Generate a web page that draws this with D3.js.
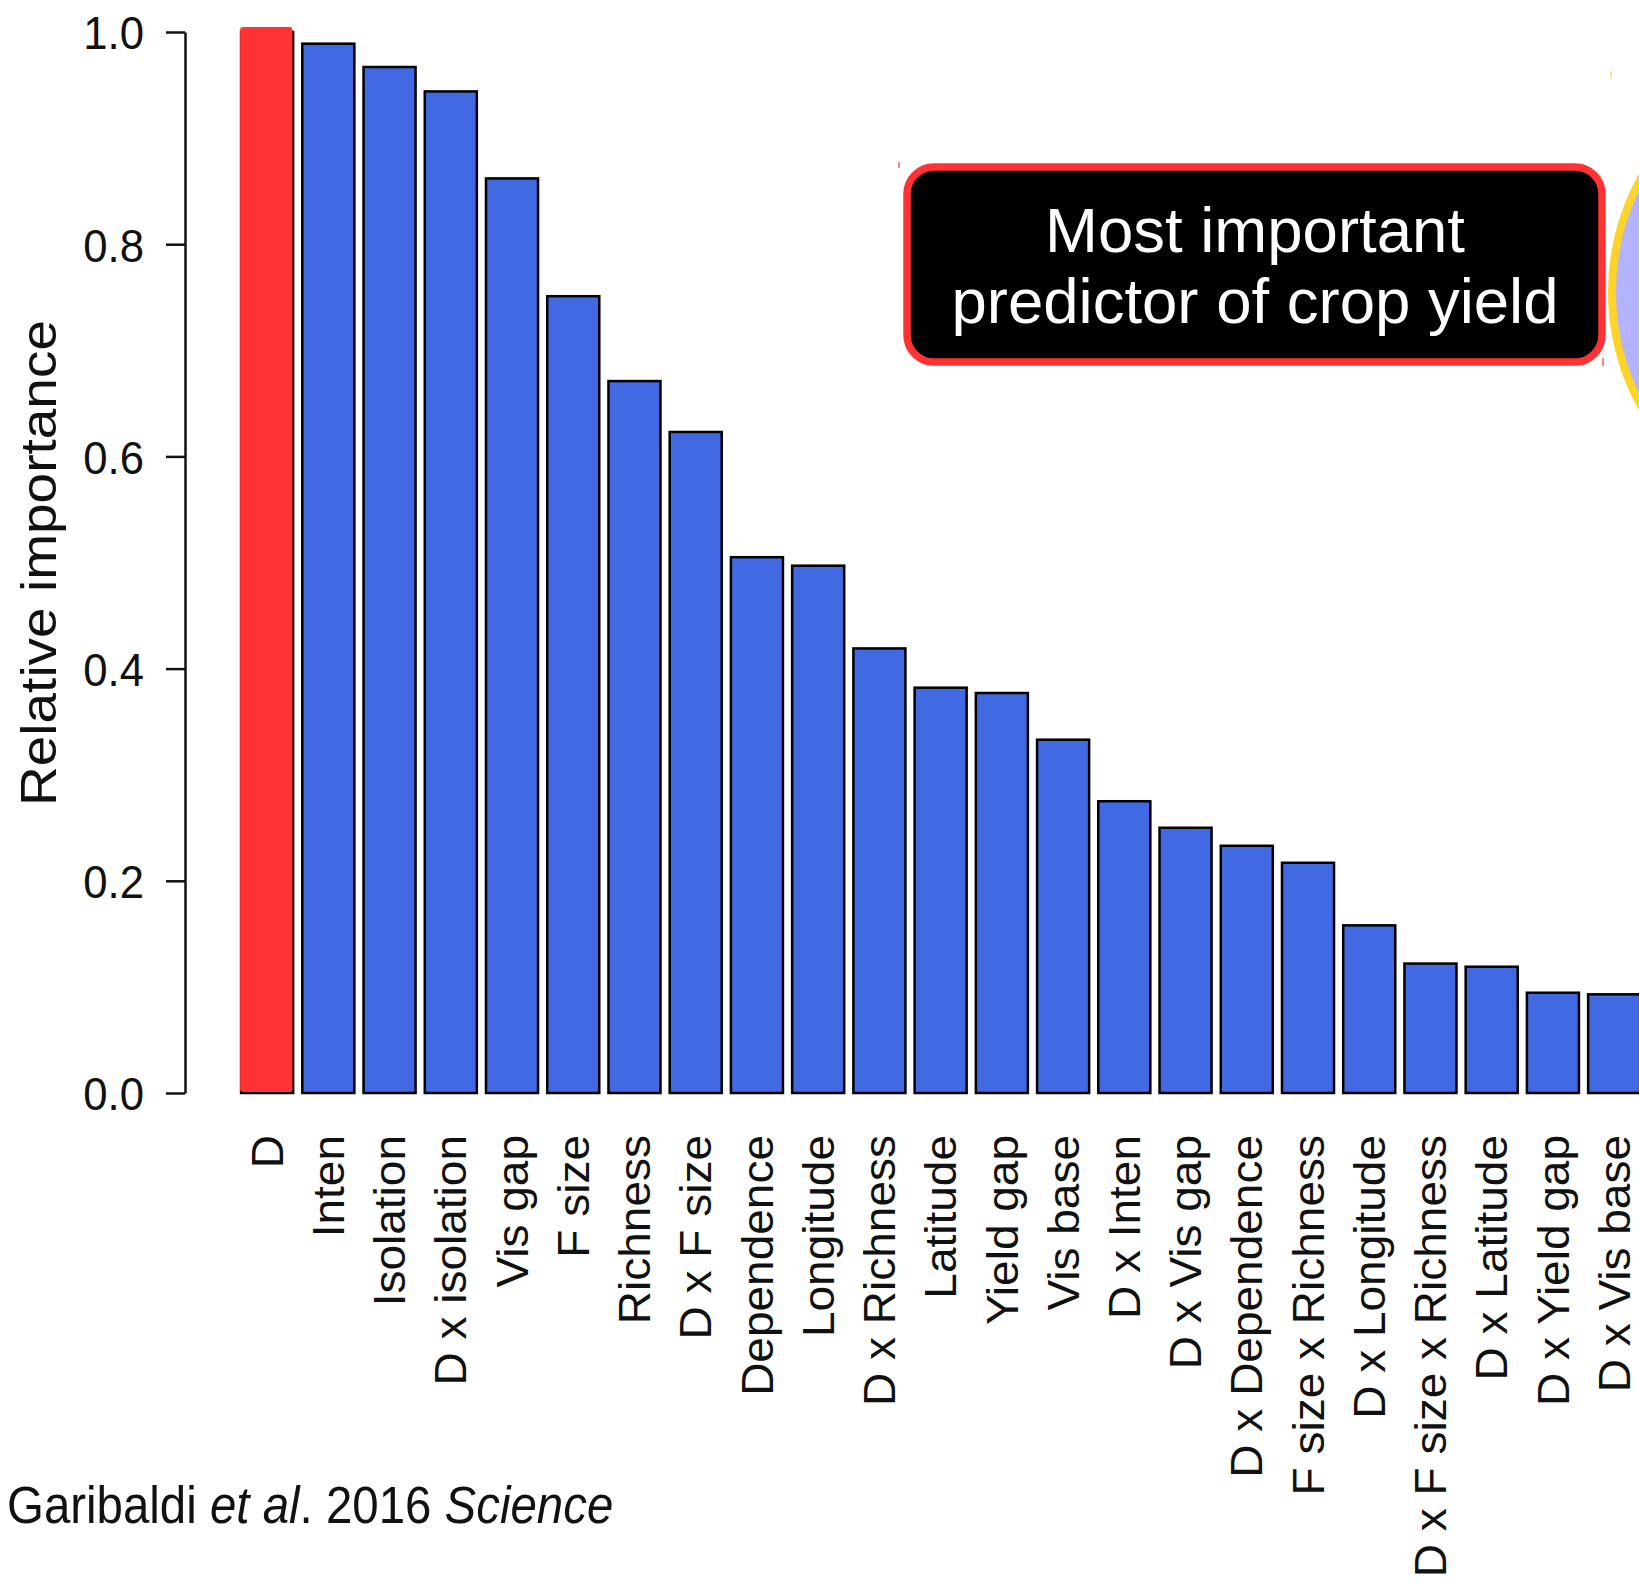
<!DOCTYPE html>
<html>
<head>
<meta charset="utf-8">
<script src="https://cdn.jsdelivr.net/npm/d3@7"></script>
<style>
  html, body { margin: 0; padding: 0; background: #fff; }
  svg { display: block; }
  text { font-family: "Liberation Sans", Arial, Helvetica, sans-serif; }
</style>
</head>
<body>
<script>
// ---- data ----
const categories = ["D", "Inten", "Isolation", "D x isolation", "Vis gap", "F size", "Richness",
  "D x F size", "Dependence", "Longitude", "D x Richness", "Latitude", "Yield gap", "Vis base",
  "D x Inten", "D x Vis gap", "D x Dependence", "F size x Richness", "D x Longitude",
  "D x F size x Richness", "D x Latitude", "D x Yield gap", "D x Vis base"];
const values = [1.0, 0.989, 0.967, 0.944, 0.862, 0.751, 0.671, 0.623, 0.505, 0.497, 0.419,
  0.382, 0.377, 0.333, 0.275, 0.250, 0.233, 0.217, 0.158, 0.122, 0.119, 0.0945, 0.093];
const highlighted = "D";
const yTicks = [0, 0.2, 0.4, 0.6, 0.8, 1.0];
const yTitle = "Relative importance";
const calloutLines = ["Most important", "predictor of crop yield"];
const citationParts = [
  {t: "Garibaldi ", italic: false},
  {t: "et al", italic: true},
  {t: ". 2016 ", italic: false},
  {t: "Science", italic: true}
];

// ---- layout ----
const W = 1639, H = 1587;
const svg = d3.select("body").append("svg").attr("width", W).attr("height", H);

const step = 61.23;
const x = d3.scaleBand().domain(categories)
  .range([267.1 - step / 2, 267.1 - step / 2 + step * categories.length])
  .paddingInner(0.15).paddingOuter(0.075);
const y = d3.scaleLinear().domain([0, 1]).range([1093, 32]);

const BLUE = "#4169E1", RED = "#FF3333", INK = "#111";

// bars
const data = categories.map((c, i) => ({c, v: values[i]}));
svg.append("g").selectAll("rect").data(data).join("rect")
  .attr("x", d => x(d.c))
  .attr("y", d => y(d.v))
  .attr("width", x.bandwidth())
  .attr("height", d => y(0) - y(d.v))
  .attr("fill", BLUE)
  .attr("stroke", "#000")
  .attr("stroke-width", 2.5);

// red highlight overlay
const hv = values[categories.indexOf(highlighted)];
svg.append("rect")
  .attr("x", x(highlighted) - 1)
  .attr("y", y(hv) - 5)
  .attr("width", x.bandwidth() + 0.3)
  .attr("height", y(0) - 1 - (y(hv) - 5))
  .attr("rx", 3)
  .attr("fill", RED);

// y axis
const tickSx = 0.93;
const yAxis = svg.append("g").attr("transform", "translate(185,0)")
  .call(d3.axisLeft(y).tickValues(yTicks).tickFormat(d3.format(".1f"))
    .tickSize(19).tickSizeOuter(0).tickPadding(23));
yAxis.select(".domain").attr("stroke", "#111").attr("stroke-width", 2.5);
yAxis.selectAll(".tick line").attr("stroke", "#111").attr("stroke-width", 2.5);
yAxis.selectAll(".tick text")
  .attr("font-size", 47)
  .attr("font-family", "'Liberation Sans', Arial, sans-serif")
  .attr("fill", INK)
  .attr("x", -41 / tickSx)
  .attr("dy", "0.36em")
  .attr("transform", `scale(${tickSx},1)`);

// y title
svg.append("text")
  .attr("transform", "translate(56,563) rotate(-90) scale(1,0.9)")
  .attr("text-anchor", "middle")
  .attr("font-size", 55)
  .attr("fill", INK)
  .text(yTitle);

// category labels
const labFs = 46, labSy = 0.95;
svg.append("g").selectAll("text").data(categories).join("text")
  .attr("transform", d => `translate(${x(d) + x.bandwidth() / 2 + 0.358 * labFs * labSy},1135) rotate(-90) scale(1,${labSy})`)
  .attr("text-anchor", "end")
  .attr("font-size", labFs)
  .attr("fill", INK)
  .text(d => d);

// citation
const cit = svg.append("text")
  .attr("transform", "translate(7,1523) scale(0.93,1)")
  .attr("font-size", 51)
  .attr("fill", INK);
cit.selectAll("tspan").data(citationParts).join("tspan")
  .attr("font-style", d => d.italic ? "italic" : "normal")
  .text(d => d.t);

// decorative circle on right edge (partially visible)
svg.append("circle")
  .attr("cx", 1850).attr("cy", 292).attr("r", 238)
  .attr("fill", "#B3B3FF")
  .attr("stroke", "#FFD42A")
  .attr("stroke-width", 8);

// callout box
svg.append("rect")
  .attr("x", 907).attr("y", 167).attr("width", 695).attr("height", 195)
  .attr("rx", 27).attr("ry", 27)
  .attr("fill", "#000")
  .attr("stroke", RED)
  .attr("stroke-width", 7.5);
svg.append("g").selectAll("text").data(calloutLines).join("text")
  .attr("x", 1255)
  .attr("y", (d, i) => 252 + i * 71)
  .attr("text-anchor", "middle")
  .attr("font-size", 63.5)
  .attr("fill", "#fff")
  .text(d => d);

// tiny selection handle marks
const marks = [
  {x: 899, y1: 162, y2: 168, c: RED},
  {x: 1603, y1: 358, y2: 366, c: RED},
  {x: 1611, y1: 71, y2: 78, c: "#FFD42A"}
];
svg.append("g").selectAll("line").data(marks).join("line")
  .attr("x1", d => d.x).attr("x2", d => d.x)
  .attr("y1", d => d.y1).attr("y2", d => d.y2)
  .attr("stroke", d => d.c).attr("stroke-width", 1.2);
</script>
</body>
</html>
